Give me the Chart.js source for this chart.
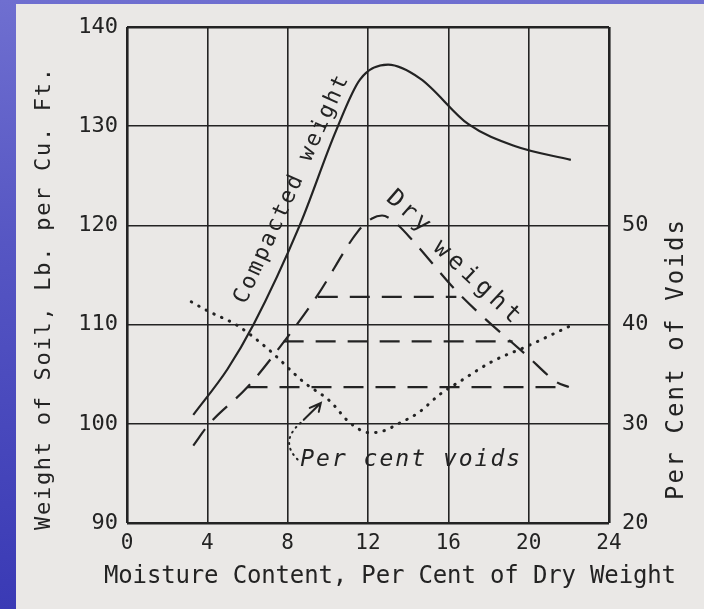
<!DOCTYPE html>
<html>
<head>
<meta charset="utf-8">
<script src="https://cdn.jsdelivr.net/npm/chart.js@4.4.1/dist/chart.umd.min.js"></script>
<style>
  html, body { margin: 0; padding: 0; }
  body {
    width: 704px; height: 609px; overflow: hidden; position: relative;
    background: linear-gradient(180deg, #6f6fd0 0%, #5656c3 40%, #3a3ab5 100%);
  }
  #paper { position: absolute; left: 16px; top: 4px; right: 0; bottom: 0; background: #eae8e6; }
  #soilChart { position: absolute; left: 0; top: 0; }
</style>
</head>
<body>
<div id="paper"></div>
<canvas id="soilChart" width="704" height="609"></canvas>
<script>
// moisture content (% of dry weight) for each curve
const moistureCompacted = [3.3, 5.0, 6.3, 8.6, 10.4, 11.6, 13.0, 14.6, 17.0, 19.3, 22.1];
const compactedWeight = [100.9, 105.5, 110.0, 120.0, 129.5, 134.7, 136.2, 134.8, 130.2, 128.0, 126.6];

const moistureDry = [3.3, 4.1, 6.0, 7.6, 9.5, 11.5, 12.2, 12.7, 13.4, 14.3, 16.3, 17.5, 19.9, 21.4, 22.0];
const dryWeight = [97.8, 100.0, 103.7, 107.7, 113.0, 119.4, 120.7, 121.0, 120.2, 118.3, 113.6, 111.2, 106.9, 104.2, 103.7];

const moistureVoids = [3.2, 4.0, 5.5, 7.1, 8.8, 10.1, 11.1, 12.1, 12.8, 13.5, 14.5, 15.6, 16.6, 18.2, 19.9, 22.0];
const percentVoids = [42.3, 41.4, 39.9, 37.4, 34.2, 32.3, 30.1, 29.1, 29.3, 30.0, 31.1, 33.0, 34.3, 36.3, 37.8, 39.8];

// horizontal dashed construction lines: [from moisture, to moisture, weight]
const levelStart = [9.5, 7.8, 6.0];
const levelEnd = [16.4, 19.2, 21.6];
const levelWeight = [112.8, 108.3, 103.7];

const xTicks = [0, 4, 8, 12, 16, 20, 24];
const weightTicks = [90, 100, 110, 120, 130, 140];
const voidsTicks = [20, 30, 40, 50];

const INK = '#232323';
const MONO = '"DejaVu Sans Mono", monospace';

function pairs(xs, ys) {
  return xs.map((x, i) => ({ x: x, y: ys[i] }));
}

// draws text char by char, spread to a given length, centred on (x, y)
function spacedText(ctx, text, x, y, angle, font, width, baseline) {
  ctx.save();
  ctx.translate(x, y);
  ctx.rotate(angle * Math.PI / 180);
  ctx.font = font;
  ctx.fillStyle = INK;
  ctx.textAlign = 'left';
  ctx.textBaseline = baseline || 'middle';
  const natural = ctx.measureText(text).width;
  const gap = text.length > 1 ? (width - natural) / (text.length - 1) : 0;
  let cx = -width / 2;
  for (const ch of text) {
    ctx.fillText(ch, cx, 0);
    cx += ctx.measureText(ch).width + gap;
  }
  ctx.restore();
}

const labelsPlugin = {
  id: 'soilLabels',
  afterDatasetsDraw(chart) {
    const ctx = chart.ctx;
    const xs = chart.scales.x;
    const ys = chart.scales.y;
    const px = (v) => xs.getPixelForValue(v);
    const py = (v) => ys.getPixelForValue(v);

    // axis titles
    spacedText(ctx, 'Weight of Soil, Lb. per Cu. Ft.', 50, 299, -90, '22px ' + MONO, 462, 'alphabetic');
    spacedText(ctx, 'Moisture Content, Per Cent of Dry Weight', 390, 583, 0, '24px ' + MONO, 572, 'alphabetic');
    spacedText(ctx, 'Per Cent of Voids', 683, 360, -90, '24px ' + MONO, 280, 'alphabetic');

    // curve labels
    spacedText(ctx, 'Compacted weight', px(8.2), py(123.6), -65.5, '22px ' + MONO, 248);
    spacedText(ctx, 'Dry', px(14.0), py(121.4), 41, '24px ' + MONO, 50);
    spacedText(ctx, 'weight', px(17.4), py(114.3), 43, '24px ' + MONO, 110);
    spacedText(ctx, 'Per cent voids', px(14.1), py(96.3), 0, 'italic 23px ' + MONO, 220);

    // leader from label to voids curve
    ctx.save();
    ctx.strokeStyle = INK;
    ctx.lineWidth = 2;
    ctx.lineCap = 'round';
    ctx.setLineDash([1, 5]);
    ctx.beginPath();
    ctx.moveTo(px(8.65), py(100.1));
    ctx.quadraticCurveTo(px(7.55), py(98.2), px(8.55), py(96.3));
    ctx.stroke();
    ctx.setLineDash([]);
    ctx.beginPath();
    ctx.moveTo(px(8.8), py(100.4));
    ctx.lineTo(px(9.65), py(102.1));
    ctx.moveTo(px(9.1), py(101.6));
    ctx.lineTo(px(9.65), py(102.1));
    ctx.lineTo(px(9.55), py(101.2));
    ctx.stroke();
    ctx.restore();
  }
};

const datasets = [
  {
    label: 'Compacted weight',
    data: pairs(moistureCompacted, compactedWeight),
    borderColor: INK,
    borderWidth: 2.2,
    cubicInterpolationMode: 'monotone',
    pointRadius: 0,
    yAxisID: 'y',
  },
  {
    label: 'Dry weight',
    data: pairs(moistureDry, dryWeight),
    borderColor: INK,
    borderWidth: 2.2,
    borderDash: [20, 12],
    cubicInterpolationMode: 'monotone',
    pointRadius: 0,
    yAxisID: 'y',
  },
  {
    label: 'Per cent voids',
    data: pairs(moistureVoids, percentVoids),
    borderColor: INK,
    borderWidth: 3,
    borderDash: [0.5, 8],
    borderCapStyle: 'round',
    cubicInterpolationMode: 'monotone',
    pointRadius: 0,
    yAxisID: 'y2',
  },
];

levelWeight.forEach((w, i) => {
  datasets.push({
    label: 'level ' + (i + 1),
    data: [{ x: levelStart[i], y: w }, { x: levelEnd[i], y: w }],
    borderColor: INK,
    borderWidth: 2.2,
    borderDash: [20, 12],
    pointRadius: 0,
    yAxisID: 'y',
  });
});

function frameWidth(edges) {
  return (ctx) => (ctx.tick && edges.includes(ctx.tick.value) ? 2.6 : 1.6);
}

new Chart(document.getElementById('soilChart'), {
  type: 'line',
  data: { datasets: datasets },
  options: {
    responsive: false,
    animation: false,
    layout: { padding: { top: 27, left: 0, right: 0, bottom: 0 } },
    plugins: {
      legend: { display: false },
      tooltip: { enabled: false },
    },
    scales: {
      x: {
        type: 'linear',
        min: 0,
        max: 24,
        afterBuildTicks(s) { s.ticks = xTicks.map((v) => ({ value: v })); },
        afterFit(s) { s.height = 86; },
        grid: { color: INK, lineWidth: frameWidth([0, 24]), drawTicks: false },
        border: { display: false },
        ticks: { color: INK, padding: 8, font: { family: MONO, size: 21 } },
      },
      y: {
        type: 'linear',
        position: 'left',
        min: 90,
        max: 140,
        afterBuildTicks(s) { s.ticks = weightTicks.map((v) => ({ value: v })); },
        afterFit(s) { s.width = 127; },
        grid: { color: INK, lineWidth: frameWidth([90, 140]), drawTicks: false },
        border: { display: false },
        ticks: { color: INK, padding: 9, font: { family: MONO, size: 22 } },
      },
      y2: {
        type: 'linear',
        position: 'right',
        min: 20,
        max: 70,
        afterBuildTicks(s) { s.ticks = voidsTicks.map((v) => ({ value: v })); },
        afterFit(s) { s.width = 95; },
        grid: { display: false, drawTicks: false },
        border: { display: false },
        ticks: { color: INK, padding: 13, font: { family: MONO, size: 22 } },
      },
    },
  },
  plugins: [labelsPlugin],
});
</script>
</body>
</html>
